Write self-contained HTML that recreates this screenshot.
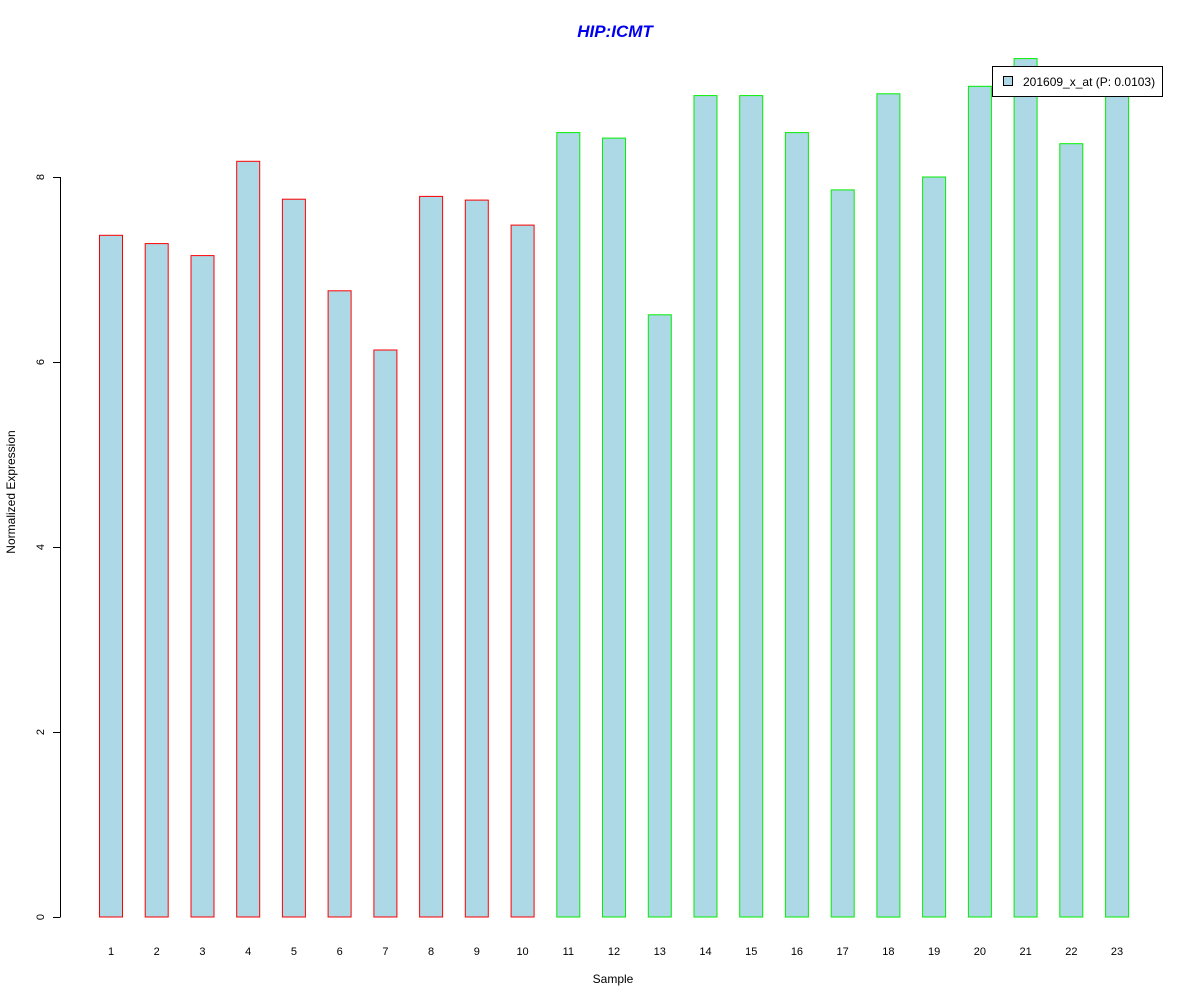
<!DOCTYPE html>
<html><head><meta charset="utf-8"><style>
body{margin:0;background:#fff;}
svg{display:block;font-family:"Liberation Sans",Arial,sans-serif;}
</style></head><body>
<svg id="chart" width="1200" height="1000">
<text x="615" y="37" text-anchor="middle" font-size="17" font-weight="bold" font-style="italic" fill="#0000ee">HIP:ICMT</text>
<g id="bars"></g>
<g id="yaxis"></g>
<g id="xlabels"></g>
<text x="613" y="983" text-anchor="middle" font-size="12">Sample</text>
<text transform="translate(15,492) rotate(-90)" text-anchor="middle" font-size="12">Normalized Expression</text>
<g>
<rect x="992.5" y="66.5" width="170" height="30" fill="#fff" stroke="#000"/>
<rect x="1003.5" y="76.5" width="9" height="9" fill="#add8e6" stroke="#000"/>
<text x="1023" y="86" font-size="12">201609_x_at (P: 0.0103)</text>
</g>
</svg>
<script>
const categories=["1","2","3","4","5","6","7","8","9","10","11","12","13","14","15","16","17","18","19","20","21","22","23"];
const values=[7.37,7.28,7.15,8.17,7.76,6.77,6.13,7.79,7.75,7.48,8.48,8.42,6.51,8.88,8.88,8.48,7.86,8.90,8.00,8.98,9.28,8.36,8.95];
const groups=["a","a","a","a","a","a","a","a","a","a","b","b","b","b","b","b","b","b","b","b","b","b","b"];
const yTicks=[0,2,4,6,8];
const NS="http://www.w3.org/2000/svg";
const y=v=>917-v*92.5;
const xc=i=>111+i*45.73;
const bw=23;
const bars=document.getElementById('bars'),xl=document.getElementById('xlabels'),ya=document.getElementById('yaxis');
categories.forEach((c,i)=>{
  const r=document.createElementNS(NS,'rect');
  r.setAttribute('x',(xc(i)-bw/2).toFixed(1));
  r.setAttribute('y',y(values[i]).toFixed(1));
  r.setAttribute('width',bw);
  r.setAttribute('height',(917-y(values[i])).toFixed(1));
  r.setAttribute('fill','#add8e6');
  r.setAttribute('stroke',groups[i]==='a'?'#ff0000':'#00ee00');
  
  
  bars.appendChild(r);
  const t=document.createElementNS(NS,'text');
  t.setAttribute('x',xc(i));t.setAttribute('y',955);
  t.setAttribute('text-anchor','middle');t.setAttribute('font-size','11');
  t.textContent=c;
  
  
  xl.appendChild(t);
});
const ax=document.createElementNS(NS,'line');
ax.setAttribute('x1',60.5);ax.setAttribute('x2',60.5);
ax.setAttribute('y1',y(yTicks[0]));ax.setAttribute('y2',y(yTicks[yTicks.length-1]));
ax.setAttribute('stroke','#000');


ya.appendChild(ax);
yTicks.forEach(v=>{
  const l=document.createElementNS(NS,'line');
  l.setAttribute('x1',53);l.setAttribute('x2',60.5);
  l.setAttribute('y1',y(v)+0.5);l.setAttribute('y2',y(v)+0.5);
  l.setAttribute('stroke','#000');
  
  
  ya.appendChild(l);
  const t=document.createElementNS(NS,'text');
  t.setAttribute('transform','translate(44,'+y(v)+') rotate(-90)');
  t.setAttribute('text-anchor','middle');t.setAttribute('font-size','11');
  t.textContent=v;
  
  
  ya.appendChild(t);
});
</script>
</body></html>
